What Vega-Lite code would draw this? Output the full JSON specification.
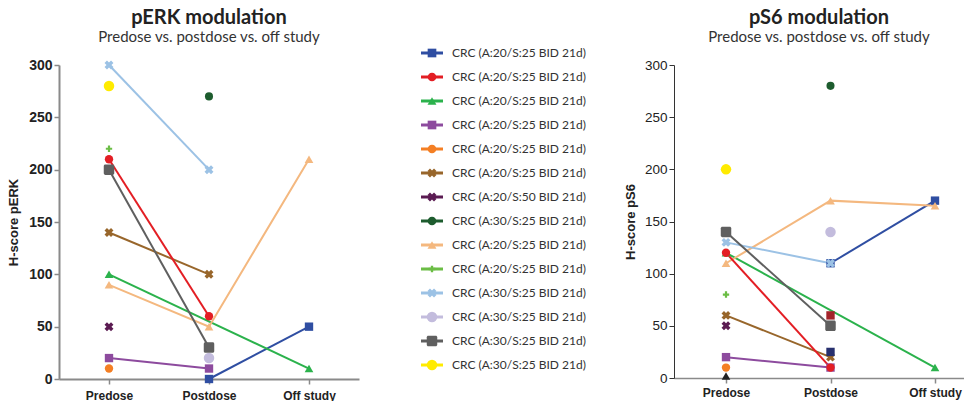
{
  "$schema": "https://vega.github.io/schema/vega-lite/v6.json",
  "background": "white",
  "padding": {"left": 7, "top": 8, "right": 0, "bottom": 0},
  "spacing": 0,
  "bounds": "full",
  "config": {"view": {"stroke": null}},
  "datasets": {
    "perk": [
      {"id": 1, "time": "Postdose", "value": 0},
      {"id": 1, "time": "Off study", "value": 50},
      {"id": 3, "time": "Predose", "value": 100},
      {"id": 3, "time": "Off study", "value": 10},
      {"id": 4, "time": "Predose", "value": 20},
      {"id": 4, "time": "Postdose", "value": 10},
      {"id": 5, "time": "Predose", "value": 10},
      {"id": 6, "time": "Predose", "value": 140},
      {"id": 6, "time": "Postdose", "value": 100},
      {"id": 7, "time": "Predose", "value": 50},
      {"id": 8, "time": "Postdose", "value": 270},
      {"id": 9, "time": "Predose", "value": 90},
      {"id": 9, "time": "Postdose", "value": 50},
      {"id": 9, "time": "Off study", "value": 210},
      {"id": 10, "time": "Predose", "value": 220},
      {"id": 11, "time": "Predose", "value": 300},
      {"id": 11, "time": "Postdose", "value": 200},
      {"id": 12, "time": "Postdose", "value": 20},
      {"id": 13, "time": "Predose", "value": 200},
      {"id": 13, "time": "Postdose", "value": 30},
      {"id": 14, "time": "Predose", "value": 280},
      {"id": 2, "time": "Predose", "value": 210},
      {"id": 2, "time": "Postdose", "value": 60}
    ],
    "ps6": [
      {"id": 17, "time": "Predose", "value": 2},
      {"id": 1, "time": "Postdose", "value": 110},
      {"id": 1, "time": "Off study", "value": 170},
      {"id": 3, "time": "Predose", "value": 120},
      {"id": 3, "time": "Off study", "value": 10},
      {"id": 4, "time": "Predose", "value": 20},
      {"id": 4, "time": "Postdose", "value": 10},
      {"id": 5, "time": "Predose", "value": 10},
      {"id": 6, "time": "Predose", "value": 60},
      {"id": 6, "time": "Postdose", "value": 20},
      {"id": 7, "time": "Predose", "value": 50},
      {"id": 8, "time": "Postdose", "value": 280},
      {"id": 9, "time": "Predose", "value": 110},
      {"id": 9, "time": "Postdose", "value": 170},
      {"id": 9, "time": "Off study", "value": 165},
      {"id": 10, "time": "Predose", "value": 80},
      {"id": 11, "time": "Predose", "value": 130},
      {"id": 11, "time": "Postdose", "value": 110},
      {"id": 12, "time": "Postdose", "value": 140},
      {"id": 13, "time": "Predose", "value": 140},
      {"id": 13, "time": "Postdose", "value": 50},
      {"id": 14, "time": "Predose", "value": 200},
      {"id": 15, "time": "Postdose", "value": 60},
      {"id": 16, "time": "Postdose", "value": 25},
      {"id": 2, "time": "Predose", "value": 120},
      {"id": 2, "time": "Postdose", "value": 10}
    ],
    "series": [
      {"id": 1, "label": "CRC (A:20/S:25 BID 21d)"},
      {"id": 2, "label": "CRC (A:20/S:25 BID 21d)"},
      {"id": 3, "label": "CRC (A:20/S:25 BID 21d)"},
      {"id": 4, "label": "CRC (A:20/S:25 BID 21d)"},
      {"id": 5, "label": "CRC (A:20/S:25 BID 21d)"},
      {"id": 6, "label": "CRC (A:20/S:25 BID 21d)"},
      {"id": 7, "label": "CRC (A:20/S:50 BID 21d)"},
      {"id": 8, "label": "CRC (A:30/S:25 BID 21d)"},
      {"id": 9, "label": "CRC (A:20/S:25 BID 21d)"},
      {"id": 10, "label": "CRC (A:20/S:25 BID 21d)"},
      {"id": 11, "label": "CRC (A:30/S:25 BID 21d)"},
      {"id": 12, "label": "CRC (A:30/S:25 BID 21d)"},
      {"id": 13, "label": "CRC (A:30/S:25 BID 21d)"},
      {"id": 14, "label": "CRC (A:30/S:25 BID 21d)"}
    ]
  },
  "resolve": {"scale": {"color": "independent", "shape": "independent", "size": "independent"}},
  "hconcat": [
    {
      "width": 300,
      "height": 314,
      "title": {
        "text": "pERK modulation",
        "subtitle": "Predose vs. postdose vs. off study",
        "frame": "group",
        "anchor": "middle",
        "font": "Lato",
        "fontSize": 20,
        "fontWeight": "bold",
        "color": "#222222",
        "subtitleFont": "Lato",
        "subtitleFontSize": 15,
        "subtitleColor": "#333333",
        "subtitlePadding": 2,
        "offset": 13
      },
      "data": {"name": "perk"},
      "encoding": {
        "x": {
          "field": "time",
          "type": "ordinal",
          "sort": ["Predose", "Postdose", "Off study"],
          "scale": {"type": "point", "padding": 0.5},
          "axis": {
            "title": null,
            "labelAngle": 0,
            "labelFont": "Liberation Sans",
            "labelFontSize": 12,
            "labelFontWeight": "bold",
            "labelColor": "#222222",
            "labelPadding": 6,
            "tickSize": 5,
            "tickColor": "#8a8a8a",
            "tickWidth": 1.5,
            "domainColor": "#8a8a8a",
            "domainWidth": 2
          }
        },
        "y": {
          "field": "value",
          "type": "quantitative",
          "scale": {"domain": [0, 300], "nice": false},
          "axis": {
            "title": "H-score pERK",
            "titleFont": "Liberation Sans",
            "titleFontSize": 13,
            "titleFontWeight": "bold",
            "titleColor": "#222222",
            "titlePadding": 8,
            "values": [0, 50, 100, 150, 200, 250, 300],
            "labelFont": "Liberation Sans",
            "labelFontSize": 14,
            "labelFontWeight": "bold",
            "labelColor": "#222222",
            "labelPadding": 2,
            "tickSize": 5,
            "tickColor": "#8a8a8a",
            "tickWidth": 1.5,
            "domainColor": "#8a8a8a",
            "domainWidth": 2,
            "grid": false
          }
        },
        "color": {
          "field": "id",
          "type": "nominal",
          "scale": {
            "domain": [1, 2, 3, 4, 5, 6, 7, 8, 9, 10, 11, 12, 13, 14, 15, 16, 17],
            "range": ["#2F4EA2", "#E31E24", "#2BB24C", "#8D4B9E", "#F47F24", "#98662B", "#5B1B52", "#1D5C2E", "#F4B87F", "#6BBD45", "#9CC2E5", "#C3BCDD", "#5F5F5F", "#FFEB00", "#A3232A", "#27306E", "#222222"]
          },
          "legend": null
        }
      },
      "layer": [
        {"mark": {"type": "line", "strokeWidth": 2}, "encoding": {"detail": {"field": "id", "type": "nominal"}}},
        {
          "mark": {"type": "point", "filled": true, "opacity": 1},
          "encoding": {
            "shape": {
              "field": "id",
              "type": "nominal",
              "scale": {
                "domain": [1, 2, 3, 4, 5, 6, 7, 8, 9, 10, 11, 12, 13, 14, 15, 16, 17],
                "range": ["square", "circle", "triangle-up", "square", "circle", "M-1,-0.45L-0.45,-1L0,-0.55L0.45,-1L1,-0.45L0.55,0L1,0.45L0.45,1L0,0.55L-0.45,1L-1,0.45L-0.55,0Z", "M-1,-0.45L-0.45,-1L0,-0.55L0.45,-1L1,-0.45L0.55,0L1,0.45L0.45,1L0,0.55L-0.45,1L-1,0.45L-0.55,0Z", "circle", "triangle-up", "M-0.35,-1H0.35V-0.35H1V0.35H0.35V1H-0.35V0.35H-1V-0.35H-0.35Z", "M-1,-0.45L-0.45,-1L0,-0.55L0.45,-1L1,-0.45L0.55,0L1,0.45L0.45,1L0,0.55L-0.45,1L-1,0.45L-0.55,0Z", "circle", "M-0.7,-1H0.7A0.3,0.3 0 0 1 1,-0.7V0.7A0.3,0.3 0 0 1 0.7,1H-0.7A0.3,0.3 0 0 1 -1,0.7V-0.7A0.3,0.3 0 0 1 -0.7,-1Z", "circle", "square", "square", "triangle-up"]
              },
              "legend": null
            },
            "size": {
              "field": "id",
              "type": "nominal",
              "scale": {
                "type": "ordinal",
                "domain": [1, 2, 3, 4, 5, 6, 7, 8, 9, 10, 11, 12, 13, 14, 15, 16, 17],
                "range": [70, 70, 75, 70, 70, 80, 80, 65, 75, 40, 80, 110, 110, 110, 70, 70, 75]
              },
              "legend": null
            }
          }
        }
      ]
    },
    {
      "width": 265,
      "height": 300,
      "data": {"name": "series"},
      "encoding": {
        "y": {
          "field": "id",
          "type": "quantitative",
          "scale": {"domain": [1.5, 14], "reverse": true, "nice": false, "zero": false},
          "axis": null
        },
        "color": {
          "field": "id",
          "type": "nominal",
          "scale": {
            "domain": [1, 2, 3, 4, 5, 6, 7, 8, 9, 10, 11, 12, 13, 14, 15, 16, 17],
            "range": ["#2F4EA2", "#E31E24", "#2BB24C", "#8D4B9E", "#F47F24", "#98662B", "#5B1B52", "#1D5C2E", "#F4B87F", "#6BBD45", "#9CC2E5", "#C3BCDD", "#5F5F5F", "#FFEB00", "#A3232A", "#27306E", "#222222"]
          },
          "legend": null
        }
      },
      "layer": [
        {
          "mark": {"type": "rule", "strokeWidth": 3},
          "encoding": {
            "x": {"datum": 0, "type": "quantitative", "scale": {"domain": [-62, 203], "nice": false, "zero": false}, "axis": null},
            "x2": {"datum": 22}
          }
        },
        {
          "mark": {"type": "point", "filled": true, "opacity": 1},
          "encoding": {
            "x": {"datum": 11, "type": "quantitative"},
            "shape": {
              "field": "id",
              "type": "nominal",
              "scale": {
                "domain": [1, 2, 3, 4, 5, 6, 7, 8, 9, 10, 11, 12, 13, 14, 15, 16, 17],
                "range": ["square", "circle", "triangle-up", "square", "circle", "M-1,-0.45L-0.45,-1L0,-0.55L0.45,-1L1,-0.45L0.55,0L1,0.45L0.45,1L0,0.55L-0.45,1L-1,0.45L-0.55,0Z", "M-1,-0.45L-0.45,-1L0,-0.55L0.45,-1L1,-0.45L0.55,0L1,0.45L0.45,1L0,0.55L-0.45,1L-1,0.45L-0.55,0Z", "circle", "triangle-up", "M-0.35,-1H0.35V-0.35H1V0.35H0.35V1H-0.35V0.35H-1V-0.35H-0.35Z", "M-1,-0.45L-0.45,-1L0,-0.55L0.45,-1L1,-0.45L0.55,0L1,0.45L0.45,1L0,0.55L-0.45,1L-1,0.45L-0.55,0Z", "circle", "M-0.7,-1H0.7A0.3,0.3 0 0 1 1,-0.7V0.7A0.3,0.3 0 0 1 0.7,1H-0.7A0.3,0.3 0 0 1 -1,0.7V-0.7A0.3,0.3 0 0 1 -0.7,-1Z", "circle", "square", "square", "triangle-up"]
              },
              "legend": null
            },
            "size": {
              "field": "id",
              "type": "nominal",
              "scale": {
                "type": "ordinal",
                "domain": [1, 2, 3, 4, 5, 6, 7, 8, 9, 10, 11, 12, 13, 14, 15, 16, 17],
                "range": [75, 75, 80, 75, 75, 80, 80, 75, 80, 45, 80, 110, 110, 110, 75, 75, 80]
              },
              "legend": null
            }
          }
        },
        {
          "mark": {"type": "text", "align": "left", "baseline": "middle", "font": "Lato", "fontSize": 12},
          "encoding": {
            "x": {"datum": 31, "type": "quantitative"},
            "text": {"field": "label", "type": "nominal"},
            "color": {"value": "#333333"}
          }
        }
      ]
    },
    {
      "width": 290,
      "height": 313,
      "title": {
        "text": "pS6 modulation",
        "subtitle": "Predose vs. postdose vs. off study",
        "frame": "group",
        "anchor": "middle",
        "font": "Lato",
        "fontSize": 20,
        "fontWeight": "bold",
        "color": "#222222",
        "subtitleFont": "Lato",
        "subtitleFontSize": 15,
        "subtitleColor": "#333333",
        "subtitlePadding": 2,
        "offset": 13
      },
      "data": {"name": "ps6"},
      "encoding": {
        "x": {
          "field": "time",
          "type": "ordinal",
          "sort": ["Predose", "Postdose", "Off study"],
          "scale": {"type": "point", "padding": 0.3876, "align": 0.642},
          "axis": {
            "title": null,
            "labelAngle": 0,
            "labelFont": "Liberation Sans",
            "labelFontSize": 12,
            "labelFontWeight": "bold",
            "labelColor": "#222222",
            "labelPadding": 4,
            "tickSize": 5,
            "tickColor": "#8a8a8a",
            "tickWidth": 1.5,
            "domainColor": "#8a8a8a",
            "domainWidth": 1.5
          }
        },
        "y": {
          "field": "value",
          "type": "quantitative",
          "scale": {"domain": [0, 300], "nice": false},
          "axis": {
            "title": "H-score pS6",
            "titleFont": "Liberation Sans",
            "titleFontSize": 13,
            "titleFontWeight": "bold",
            "titleColor": "#222222",
            "titlePadding": 7,
            "values": [0, 50, 100, 150, 200, 250, 300],
            "labelFont": "Liberation Sans",
            "labelFontSize": 13.5,
            "labelColor": "#222222",
            "labelPadding": 2,
            "tickSize": 5,
            "tickColor": "#333333",
            "tickWidth": 1,
            "domainColor": "#333333",
            "domainWidth": 1,
            "grid": false
          }
        },
        "color": {
          "field": "id",
          "type": "nominal",
          "scale": {
            "domain": [1, 2, 3, 4, 5, 6, 7, 8, 9, 10, 11, 12, 13, 14, 15, 16, 17],
            "range": ["#2F4EA2", "#E31E24", "#2BB24C", "#8D4B9E", "#F47F24", "#98662B", "#5B1B52", "#1D5C2E", "#F4B87F", "#6BBD45", "#9CC2E5", "#C3BCDD", "#5F5F5F", "#FFEB00", "#A3232A", "#27306E", "#222222"]
          },
          "legend": null
        }
      },
      "layer": [
        {"mark": {"type": "line", "strokeWidth": 2}, "encoding": {"detail": {"field": "id", "type": "nominal"}}},
        {
          "mark": {"type": "point", "filled": true, "opacity": 1},
          "encoding": {
            "shape": {
              "field": "id",
              "type": "nominal",
              "scale": {
                "domain": [1, 2, 3, 4, 5, 6, 7, 8, 9, 10, 11, 12, 13, 14, 15, 16, 17],
                "range": ["square", "circle", "triangle-up", "square", "circle", "M-1,-0.45L-0.45,-1L0,-0.55L0.45,-1L1,-0.45L0.55,0L1,0.45L0.45,1L0,0.55L-0.45,1L-1,0.45L-0.55,0Z", "M-1,-0.45L-0.45,-1L0,-0.55L0.45,-1L1,-0.45L0.55,0L1,0.45L0.45,1L0,0.55L-0.45,1L-1,0.45L-0.55,0Z", "circle", "triangle-up", "M-0.35,-1H0.35V-0.35H1V0.35H0.35V1H-0.35V0.35H-1V-0.35H-0.35Z", "M-1,-0.45L-0.45,-1L0,-0.55L0.45,-1L1,-0.45L0.55,0L1,0.45L0.45,1L0,0.55L-0.45,1L-1,0.45L-0.55,0Z", "circle", "M-0.7,-1H0.7A0.3,0.3 0 0 1 1,-0.7V0.7A0.3,0.3 0 0 1 0.7,1H-0.7A0.3,0.3 0 0 1 -1,0.7V-0.7A0.3,0.3 0 0 1 -0.7,-1Z", "circle", "square", "square", "triangle-up"]
              },
              "legend": null
            },
            "size": {
              "field": "id",
              "type": "nominal",
              "scale": {
                "type": "ordinal",
                "domain": [1, 2, 3, 4, 5, 6, 7, 8, 9, 10, 11, 12, 13, 14, 15, 16, 17],
                "range": [70, 70, 75, 70, 70, 80, 80, 65, 75, 40, 80, 110, 110, 110, 70, 70, 75]
              },
              "legend": null
            }
          }
        }
      ]
    }
  ]
}
